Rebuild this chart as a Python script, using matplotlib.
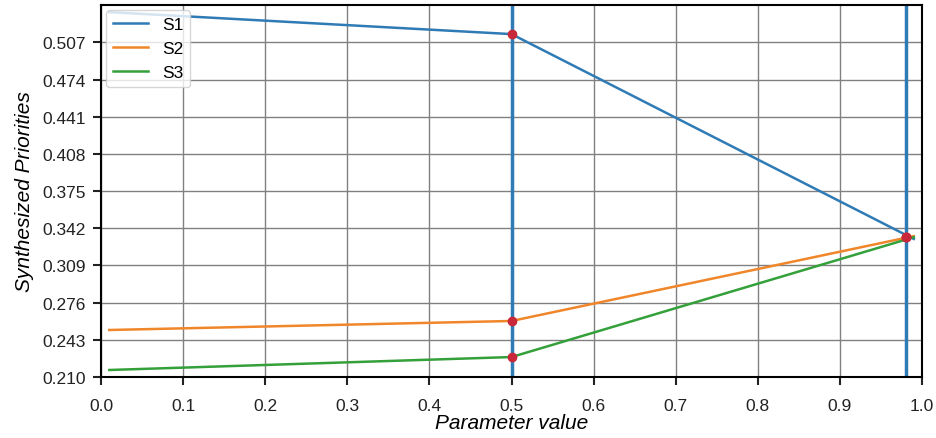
import numpy as np
import matplotlib.pyplot as plt

plt.rcParams['font.family'] = ['Liberation Sans', 'DejaVu Sans']

# line data
x_vals = [0.01, 0.5, 0.99]
s1 = [0.5338, 0.5143, 0.3325]
s2 = [0.2517, 0.2597, 0.3350]
s3 = [0.2162, 0.2277, 0.3340]
names = ['S1', 'S2', 'S3']

# highlighted parameter values
marks_x = [0.5, 0.98]
marks_y = [[0.5143, 0.2597, 0.2277], [0.3338, 0.3338, 0.3338]]

y_ticks = [0.210, 0.243, 0.276, 0.309, 0.342, 0.375, 0.408, 0.441, 0.474, 0.507]
x_ticks = [0.0, 0.1, 0.2, 0.3, 0.4, 0.5, 0.6, 0.7, 0.8, 0.9, 1.0]


def main():
    fig, ax = plt.subplots(figsize=(9.36, 4.39), dpi=100)
    colors = ['#2f7bb5', '#f0862a', '#34a03a']
    for ys, name, c in zip([s1, s2, s3], names, colors):
        ax.plot(x_vals, ys, color=c, lw=1.8, label=name)

    for xv in marks_x:
        ax.axvline(xv, color='#2f7bb5', lw=2.5)
    for xv, ys in zip(marks_x, marks_y):
        ax.plot([xv] * len(ys), ys, 'o', color='#c8283a', ms=6, zorder=5)

    ax.set_xlim(0, 1)
    ax.set_ylim(0.21, 0.54)
    ax.set_xticks(x_ticks)
    ax.set_yticks(y_ticks)
    ax.set_yticklabels([f'{v:.3f}' for v in y_ticks])
    ax.tick_params(direction='out', length=6, width=1.5, labelsize=12.5,
                   colors='#222222', pad=5)
    ax.tick_params(axis='x', pad=9)
    for sp in ax.spines.values():
        sp.set_linewidth(1.5)
        sp.set_color('black')
    ax.grid(True, color='#808080', lw=1.0)
    ax.set_axisbelow(True)
    ax.set_xlabel('Parameter value', fontsize=15, style='italic', labelpad=0)
    ax.set_ylabel('Synthesized Priorities', fontsize=15, style='italic', labelpad=6)
    ax.legend(loc='upper left', fontsize=12.5, framealpha=0.8, borderaxespad=0.3)

    fig.subplots_adjust(left=0.108, right=0.985, top=0.986, bottom=0.139)
    fig.savefig('out.png', dpi=100)


if __name__ == '__main__':
    main()
